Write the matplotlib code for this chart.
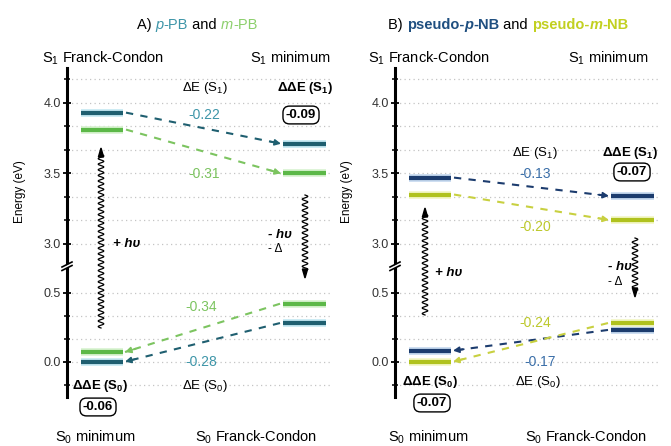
import numpy as np
import matplotlib
matplotlib.use("Agg")
import matplotlib.pyplot as plt
from matplotlib.lines import Line2D
from matplotlib.patches import Polygon

plt.rcParams['font.family'] = ['Liberation Sans', 'DejaVu Sans']
plt.rcParams['mathtext.fontset'] = 'custom'
plt.rcParams['mathtext.rm'] = 'Liberation Sans'
plt.rcParams['mathtext.it'] = 'Liberation Sans:italic'
plt.rcParams['mathtext.bf'] = 'Liberation Sans:bold'

# ---------------- data ----------------
states = ["S1_FC", "S1_min", "S0_min", "S0_FC"]
pPB = [3.93, 3.71, 0.00, 0.28]
mPB = [3.81, 3.50, 0.07, 0.42]
pNB = [3.47, 3.34, 0.08, 0.23]
mNB = [3.35, 3.17, 0.00, 0.28]
dE_S1_A = ["-0.22", "-0.31"]
dE_S0_A = ["-0.28", "-0.34"]
ddE_A = ["-0.09", "-0.06"]
dE_S1_B = ["-0.13", "-0.20"]
dE_S0_B = ["-0.17", "-0.24"]
ddE_B = ["-0.07", "-0.07"]
upper_ticks = [3.0, 3.5, 4.0]
lower_ticks = [0.0, 0.5]

# ---------------- colours ----------------
C = {
    'pPB': dict(bar='#1f5f70', glow='#c4e8f2', txt='#3d95a8', dash='#1f5f70'),
    'mPB': dict(bar='#5cb848', glow='#d8f2d0', txt='#7cc460', dash='#7cc460'),
    'pNB': dict(bar='#1c3c6e', glow='#c4d8ee', txt='#3a6ea8', dash='#1c3c6e'),
    'mNB': dict(bar='#b0c21e', glow='#f2f6c4', txt='#bcc82a', dash='#c8d040'),
}

W, H = 671, 446
fig = plt.figure(figsize=(W / 100, H / 100), dpi=100)


def rect(l, r, t, b):
    return [l / W, 1 - b / H, (r - l) / W, (b - t) / H]


def fx(x):
    return x / W


def fy(y):
    return 1 - y / H


UP_LIM = (2.83, 4.246)
LO_LIM = (-0.256, 0.679)
XLIM = (0, 265)
BAR_L = (14, 56)
BAR_R = (216, 259)


def setup(ax, lim, ticks, minors):
    ax.set_xlim(*XLIM)
    ax.set_ylim(*lim)
    for s in ['top', 'right', 'bottom']:
        ax.spines[s].set_visible(False)
    ax.spines['left'].set_linewidth(2.2)
    ax.set_xticks([])
    ax.set_yticks(ticks)
    ax.set_yticklabels([f"{t:.1f}" for t in ticks])
    ax.set_yticks(minors, minor=True)
    ax.tick_params(axis='y', which='major', direction='inout', length=6, width=1.3,
                   labelsize=9, labelcolor='#333333', pad=1.5)
    ax.tick_params(axis='y', which='minor', direction='inout', length=4, width=1.1)
    ax.yaxis.grid(True, which='both', ls=(0, (1, 2.6)), color='#c4c4c4', lw=0.9)
    ax.set_axisbelow(True)
    ax.patch.set_alpha(0)


def level(ax, x0, x1, y, c):
    ax.plot([x0, x1], [y, y], color=c['glow'], lw=5.5, solid_capstyle='butt', zorder=3)
    ax.plot([x0, x1], [y, y], color=c['bar'], lw=3.0, solid_capstyle='butt', zorder=4)


def connector(ax, x0, y0, x1, y1, c):
    ax.plot([x0, x1], [y0, y1], color=c['dash'], lw=1.5, ls=(0, (3.5, 3.5)), zorder=2)
    f = 0.07
    ax.annotate('', xy=(x1, y1), xytext=(x1 - f * (x1 - x0), y1 - f * (y1 - y0)),
                arrowprops=dict(arrowstyle='-|>', color=c['dash'], lw=1.2,
                                mutation_scale=9, shrinkA=0, shrinkB=0), zorder=5)


def wavy(x, y0, y1):
    # squiggly vertical arrow in figure pixel coordinates, head at y1
    n = 600
    d = np.sign(y1 - y0)
    yy = np.linspace(y0, y1 - d * 7, n)
    xx = x + 2.8 * np.sin(2 * np.pi * (yy - y0) / 5.6)
    fig.add_artist(Line2D(fx(xx), fy(yy), color='black', lw=0.9,
                          transform=fig.transFigure))
    head = [(x - 2.6, y1 - d * 9), (x + 2.6, y1 - d * 9), (x, y1)]
    fig.add_artist(Polygon([(fx(a), fy(b)) for a, b in head], closed=True,
                           fc='black', ec='black', transform=fig.transFigure))


def T(x, y, s, ha='left', **kw):
    kw.setdefault('fontsize', 9)
    return fig.text(fx(x), fy(y), s, ha=ha, va='center', **kw)


def chain(ax, x, y, parts, size):
    t = fig.text(fx(x), fy(y), parts[0][0], va='center', ha='left', fontsize=size, **parts[0][1])
    for s, kw in parts[1:]:
        t = ax.annotate(s, xy=(1, 0), xycoords=t, va='bottom', ha='left',
                        fontsize=size, annotation_clip=False, **kw)


def breakmark(x, y):
    fig.add_artist(Polygon([(fx(x - 4), fy(y + 2)), (fx(x + 4), fy(y - 2)),
                            (fx(x + 4), fy(y - 5)), (fx(x - 4), fy(y - 1))],
                           closed=True, fc='white', ec='none', transform=fig.transFigure))
    for off in (0, 3.5):
        fig.add_artist(Line2D([fx(x - 5), fx(x + 5)], [fy(y + 2.5 - off), fy(y - 2.5 - off)],
                              color='black', lw=1.2, transform=fig.transFigure))


um = [3.1667, 3.3333, 3.6667, 3.8333, 4.1667]
lm = [-0.1667, 0.1667, 0.3333]


def panel(l, r, ser_p, ser_m, cp, cm):
    axu = fig.add_axes(rect(l, r, 68, 268))
    axl = fig.add_axes(rect(l, r, 268, 397))
    setup(axu, UP_LIM, upper_ticks, um)
    setup(axl, LO_LIM, lower_ticks, lm)
    for ser, c in ((ser_p, cp), (ser_m, cm)):
        level(axu, *BAR_L, ser[0], c)
        level(axu, *BAR_R, ser[1], c)
        level(axl, *BAR_L, ser[2], c)
        level(axl, *BAR_R, ser[3], c)
        connector(axu, BAR_L[1] + 3, ser[0], BAR_R[0] - 2, ser[1], c)
        connector(axl, BAR_R[0] - 3, ser[3], BAR_L[1] + 2, ser[2], c)
    breakmark(l, 268)
    return axu, axl


box = dict(boxstyle='round,pad=0.22,rounding_size=0.5', fc='white', ec='black', lw=1.0)

# ---------------- Panel A ----------------
axAu, axAl = panel(67, 332, pPB, mPB, C['pPB'], C['mPB'])
chain(axAu, 137, 25, [("A) ", {}), ("p", dict(color='#3d95a8', style='italic')),
                      ("-PB", dict(color='#3d95a8')), (" and ", {}),
                      ("m", dict(color='#8ccf6c', style='italic')), ("-PB", dict(color='#8ccf6c'))], 10.5)
T(42, 58, r"S$_1$ Franck-Condon", fontsize=10.5)
T(250, 58, r"S$_1$ minimum", fontsize=10.5)
T(205, 88, r"$\Delta$E (S$_1$)", ha='center', fontsize=9.5)
T(204, 115, dE_S1_A[0], ha='center', color=C['pPB']['txt'], fontsize=10)
T(277, 88, r"$\mathbf{\Delta\Delta E\ (S_1)}$", fontsize=9.5)
T(301, 115, ddE_A[0], ha='center', fontsize=9.5, weight='bold', bbox=box)
T(204, 174, dE_S1_A[1], ha='center', color=C['mPB']['txt'], fontsize=10)
T(113, 244, "+ hυ", style='italic', weight='bold', fontsize=9.5)
T(268, 235, "- hυ", style='italic', weight='bold', fontsize=9.5)
T(268, 249, "- Δ", fontsize=8.5)
T(201, 307, dE_S0_A[1], ha='center', color=C['mPB']['txt'], fontsize=10)
T(201, 362, dE_S0_A[0], ha='center', color=C['pPB']['txt'], fontsize=10)
T(72, 386, r"$\mathbf{\Delta\Delta E\ (S_0)}$", fontsize=9.5)
T(98, 407, ddE_A[1], ha='center', fontsize=9.5, weight='bold', bbox=box)
T(182, 386, r"$\Delta$E (S$_0$)", fontsize=9.5)
T(55, 437, r"S$_0$ minimum", fontsize=10.5)
T(195, 437, r"S$_0$ Franck-Condon", fontsize=10.5)
fig.text(fx(20), fy(192), "Energy (eV)", rotation=90, ha='center', va='center', fontsize=8.5)
wavy(101, 328, 148)
wavy(305, 195, 278)

# ---------------- Panel B ----------------
axBu, axBl = panel(395, 660, pNB, mNB, C['pNB'], C['mNB'])
chain(axBu, 388, 25, [("B) ", {}), ("pseudo-", dict(color='#1f4f80', weight='bold')),
                      ("p", dict(color='#1f4f80', weight='bold', style='italic')),
                      ("-NB", dict(color='#1f4f80', weight='bold')), (" and ", {}),
                      ("pseudo-", dict(color='#c2d020', weight='bold')),
                      ("m", dict(color='#c2d020', weight='bold', style='italic')),
                      ("-NB", dict(color='#c2d020', weight='bold'))], 10.5)
T(368, 58, r"S$_1$ Franck-Condon", fontsize=10.5)
T(568, 58, r"S$_1$ minimum", fontsize=10.5)
T(512, 153, r"$\Delta$E (S$_1$)", fontsize=9.5)
T(535, 174, dE_S1_B[0], ha='center', color=C['pNB']['txt'], fontsize=10)
T(602, 153, r"$\mathbf{\Delta\Delta E\ (S_1)}$", fontsize=9.5)
T(632, 172, ddE_B[0], ha='center', fontsize=9.5, weight='bold', bbox=box)
T(535, 227, dE_S1_B[1], ha='center', color=C['mNB']['txt'], fontsize=10)
T(435, 273, "+ hυ", style='italic', weight='bold', fontsize=9.5)
T(608, 267, "- hυ", style='italic', weight='bold', fontsize=9.5)
T(608, 282, "- Δ", fontsize=8.5)
T(535, 323, dE_S0_B[1], ha='center', color=C['mNB']['txt'], fontsize=10)
T(540, 362, dE_S0_B[0], ha='center', color=C['pNB']['txt'], fontsize=10)
T(402, 382, r"$\mathbf{\Delta\Delta E\ (S_0)}$", fontsize=9.5)
T(432, 403, ddE_B[1], ha='center', fontsize=9.5, weight='bold', bbox=box)
T(515, 382, r"$\Delta$E (S$_0$)", fontsize=9.5)
T(388, 437, r"S$_0$ minimum", fontsize=10.5)
T(525, 437, r"S$_0$ Franck-Condon", fontsize=10.5)
fig.text(fx(347), fy(192), "Energy (eV)", rotation=90, ha='center', va='center', fontsize=8.5)
wavy(425, 315, 208)
wavy(635, 238, 297)

fig.savefig("out.png", dpi=100)
